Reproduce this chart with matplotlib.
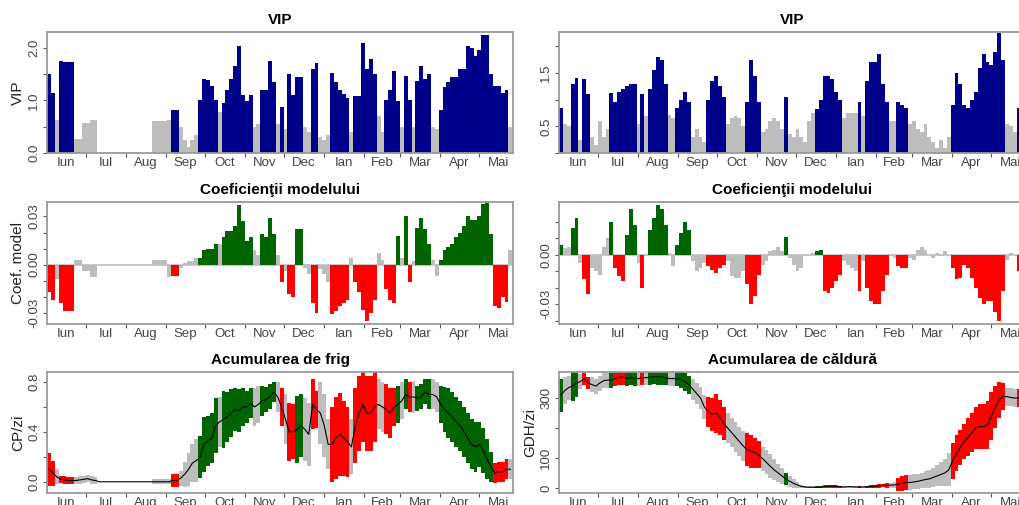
import numpy as np
import matplotlib.pyplot as plt

plt.rcParams['font.family'] = ['Liberation Sans', 'DejaVu Sans']

months = ['Iun', 'Iul', 'Aug', 'Sep', 'Oct', 'Nov', 'Dec', 'Ian', 'Feb', 'Mar', 'Apr', 'Mai']
month_start = [0, 30, 61, 92, 122, 153, 183, 214, 245, 273, 304, 334, 365]
bin_days = 3
vip_threshold = 0.8

# chill model: VIP, model coefficients, mean chill portions per day and sd (3-day steps from 1 June)
vip_chill = [1.5, 1.15, 0.62, 1.75, 1.73, 1.73, 1.73, 0.27, 0.27, 0.57,
             0.57, 0.63, 0.63, 0, 0, 0, 0, 0, 0, 0,
             0, 0, 0, 0, 0, 0, 0, 0.6, 0.6, 0.6,
             0.6, 0.63, 0.82, 0.82, 0.5, 0.25, 0.12, 0.25, 0.35, 1.0,
             1.4, 1.38, 1.28, 1.0, 0.78, 0.95, 1.2, 1.4, 1.65, 2.03,
             1.1, 0.98, 1.1, 0.5, 0.55, 1.2, 1.2, 1.75, 1.35, 0.55,
             0.88, 0.45, 1.5, 1.1, 1.45, 1.45, 0.5, 0.4, 1.6, 1.72,
             0.3, 0.25, 0.35, 1.52, 1.35, 1.2, 1.12, 1.05, 0.4, 1.08,
             1.08, 2.1, 1.6, 1.78, 1.5, 0.7, 0.4, 1.0, 1.2, 1.55,
             0.98, 0.5, 1.47, 1.0, 0.5, 1.37, 1.65, 1.4, 1.5, 0.5,
             0.45, 0.82, 1.25, 1.35, 1.45, 1.45, 1.6, 1.6, 2.03, 2.0,
             1.85, 1.95, 2.25, 2.25, 1.5, 1.28, 1.28, 1.15, 1.2, 0.5]
coef_chill = [-0.017, -0.022, -0.009, -0.024, -0.029, -0.029, -0.029, 0.003, 0.003, -0.004,
              -0.004, -0.008, -0.008, 0, 0, 0, 0, 0, 0, 0,
              0, 0, 0, 0, 0, 0, 0, 0.003, 0.003, 0.003,
              0.003, -0.008, -0.007, -0.007, -0.002, 0.001, 0.002, 0.002, 0.004, 0.004,
              0.009, 0.010, 0.010, 0.013, 0.013, 0.017, 0.021, 0.021, 0.024, 0.037,
              0.027, 0.015, 0.017, 0.009, 0.006, 0.019, 0.017, 0.029, 0.019, 0.006,
              -0.011, -0.004, -0.018, -0.020, 0.022, 0.022, -0.002, -0.006, -0.024, -0.030,
              -0.003, -0.006, -0.011, -0.031, -0.029, -0.026, -0.024, -0.022, 0.004, -0.011,
              -0.017, -0.028, -0.035, -0.030, -0.022, 0.007, 0.003, -0.015, -0.022, -0.024,
              0.018, 0.004, 0.030, -0.011, 0.002, 0.023, 0.029, 0.022, 0.013, 0.003,
              -0.007, 0.003, 0.009, 0.011, 0.013, 0.017, 0.020, 0.024, 0.030, 0.028,
              0.028, 0.030, 0.038, 0.039, 0.019, -0.026, -0.027, -0.020, -0.023, 0.009]
cp_mean = [0.10, 0.07, 0.04, 0.02, 0.015, 0.01, 0.01, 0.01, 0.015, 0.02,
           0.025, 0.015, 0.01, 0, 0, 0, 0, 0, 0, 0,
           0, 0, 0, 0, 0, 0, 0, 0, 0, 0,
           0, 0, 0.01, 0.01, 0.03, 0.06, 0.10, 0.15, 0.17, 0.20,
           0.30, 0.33, 0.35, 0.45, 0.48, 0.50, 0.52, 0.55, 0.58, 0.57,
           0.60, 0.60, 0.63, 0.60, 0.62, 0.65, 0.66, 0.68, 0.72, 0.68,
           0.60, 0.50, 0.40, 0.40, 0.42, 0.45, 0.42, 0.38, 0.62, 0.58,
           0.55, 0.45, 0.30, 0.30, 0.35, 0.38, 0.35, 0.32, 0.28, 0.45,
           0.55, 0.62, 0.55, 0.55, 0.60, 0.62, 0.60, 0.58, 0.55, 0.60,
           0.62, 0.65, 0.70, 0.68, 0.68, 0.67, 0.68, 0.72, 0.70, 0.70,
           0.68, 0.62, 0.58, 0.55, 0.52, 0.48, 0.45, 0.40, 0.35, 0.30,
           0.28, 0.30, 0.25, 0.18, 0.12, 0.07, 0.08, 0.08, 0.10, 0.10]
cp_sd = [0.13, 0.10, 0.06, 0.03, 0.03, 0.03, 0.03, 0.03, 0.03, 0.03,
         0.03, 0.03, 0.03, 0, 0, 0, 0, 0, 0, 0,
         0, 0, 0, 0, 0, 0, 0, 0.02, 0.02, 0.02,
         0.02, 0.02, 0.05, 0.05, 0.06, 0.10, 0.13, 0.15, 0.17, 0.17,
         0.22, 0.20, 0.20, 0.22, 0.20, 0.23, 0.20, 0.19, 0.17, 0.17,
         0.15, 0.13, 0.12, 0.15, 0.15, 0.12, 0.10, 0.10, 0.08, 0.12,
         0.15, 0.20, 0.23, 0.22, 0.27, 0.25, 0.25, 0.25, 0.20, 0.15,
         0.25, 0.25, 0.20, 0.30, 0.33, 0.33, 0.30, 0.28, 0.22, 0.30,
         0.30, 0.30, 0.30, 0.30, 0.28, 0.20, 0.20, 0.20, 0.20, 0.15,
         0.15, 0.15, 0.12, 0.12, 0.13, 0.10, 0.10, 0.10, 0.12, 0.12,
         0.12, 0.15, 0.18, 0.20, 0.20, 0.20, 0.20, 0.20, 0.20, 0.20,
         0.20, 0.18, 0.18, 0.16, 0.12, 0.08, 0.08, 0.08, 0.08, 0.08]

# heat model: VIP, model coefficients, mean growing degree hours per day and sd
vip_heat = [0.85, 0.55, 0.5, 1.3, 1.4, 0.25, 1.38, 1.1, 0.3, 0.15,
            0.6, 0.3, 0.45, 1.13, 0.95, 1.15, 1.2, 1.25, 1.3, 1.3,
            0.55, 1.1, 0.7, 1.2, 1.55, 1.8, 1.75, 1.3, 0.72, 0.65,
            0.85, 1.0, 1.15, 0.95, 0.3, 0.45, 0.3, 0.2, 1.0, 1.35,
            1.45, 1.25, 1.05, 0.55, 0.65, 0.7, 0.65, 0.5, 0.95, 1.75,
            1.45, 0.95, 0.4, 0.45, 0.6, 0.65, 0.6, 0.45, 1.05, 0.35,
            0.3, 0.45, 0.3, 0.2, 0.6, 0.75, 0.82, 1.0, 1.45, 1.45,
            1.38, 1.15, 1.0, 0.65, 0.75, 0.75, 0.75, 0.95, 0.7, 1.35,
            1.7, 1.7, 1.85, 1.3, 0.95, 0.6, 0.6, 0.95, 0.9, 0.85,
            0.55, 0.6, 0.45, 0.4, 0.55, 0.3, 0.2, 0.1, 0.25, 0.1,
            0.3, 0.9, 1.5, 1.3, 0.9, 0.85, 1.0, 1.15, 1.6, 1.85,
            1.7, 1.65, 1.9, 2.25, 1.75, 0.55, 0.5, 0.4, 0.85, 0.9]
coef_heat = [0.006, 0.004, 0.005, 0.016, 0.022, -0.005, -0.015, -0.024, -0.008, -0.010,
             -0.012, 0.005, 0.010, 0.020, -0.008, -0.013, -0.016, 0.012, 0.028, 0.018,
             -0.005, -0.020, 0.0, 0.015, 0.022, 0.030, 0.028, 0.018, 0.001, -0.007,
             0.006, 0.013, 0.020, 0.015, -0.004, -0.010, -0.008, -0.005, -0.007, -0.009,
             -0.011, -0.008, -0.006, -0.004, -0.013, -0.014, -0.014, -0.010, -0.018, -0.030,
             -0.025, -0.012, -0.006, -0.004, 0.002, 0.003, 0.005, 0.002, 0.011, -0.002,
             -0.006, -0.010, -0.008, -0.001, 0.0, 0.001, 0.002, 0.003, -0.022, -0.023,
             -0.020, -0.016, -0.012, -0.004, -0.006, -0.008, -0.010, -0.022, -0.004, -0.020,
             -0.028, -0.030, -0.030, -0.022, -0.012, -0.001, -0.002, -0.007, -0.008, -0.008,
             -0.002, -0.003, 0.003, 0.005, 0.003, 0.0, -0.002, 0.001, -0.001, 0.002,
             0.0, -0.008, -0.015, -0.014, -0.006, -0.008, -0.014, -0.020, -0.026, -0.030,
             -0.028, -0.028, -0.035, -0.040, -0.022, -0.003, 0.001, 0.0, -0.010, -0.012]
gdh_mean = [310, 325, 335, 340, 350, 355, 365, 350, 345, 340,
            350, 358, 360, 360, 365, 370, 370, 365, 368, 365,
            365, 368, 368, 370, 372, 372, 370, 368, 365, 365,
            365, 362, 355, 345, 330, 315, 300, 270, 255, 245,
            250, 235, 215, 200, 185, 170, 155, 140, 128, 122,
            118, 110, 98, 85, 72, 60, 50, 40, 30, 22,
            15, 10, 5, 3, 2, 2, 2, 3, 5, 6,
            6, 5, 4, 3, 4, 4, 3, 3, 3, 4,
            5, 6, 7, 8, 9, 9, 10, 12, 15, 18,
            18, 20, 22, 25, 28, 30, 35, 40, 45, 50,
            60, 90, 115, 135, 155, 170, 185, 200, 205, 205,
            210, 240, 270, 295, 305, 305, 302, 300, 300, 300]
gdh_sd = [55, 45, 40, 50, 45, 25, 20, 20, 25, 25,
          25, 25, 25, 25, 25, 25, 25, 25, 25, 25,
          25, 25, 25, 25, 25, 28, 25, 25, 25, 25,
          25, 28, 30, 30, 35, 35, 38, 40, 50, 55,
          65, 60, 55, 50, 50, 50, 50, 50, 55, 55,
          50, 45, 40, 40, 40, 35, 30, 28, 20, 18,
          14, 10, 6, 4, 3, 3, 3, 3, 5, 5,
          5, 4, 3, 3, 3, 3, 3, 3, 3, 4,
          5, 5, 6, 6, 8, 8, 10, 22, 25, 25,
          25, 25, 25, 25, 28, 30, 32, 35, 40, 45,
          55, 60, 60, 60, 60, 65, 65, 70, 75, 75,
          80, 80, 70, 60, 45, 30, 30, 30, 30, 30]

blue = '#00008B'
green = '#006400'
red = '#FF0000'
grey = '#BDBDBD'
frame_col = '#9A9A9A'
text_col = '#444444'

W, H = 1020, 505
fig = plt.figure(figsize=(W / 100, H / 100), dpi=100)


def add_panel(x0, y_top, y_bot):
    return fig.add_axes([x0 / W, 1 - y_bot / H, 466 / W, (y_bot - y_top) / H])


def style(ax, title, ylabel, yticks, ylabels, ylim):
    ax.set_xlim(0, 360.5)
    ax.set_ylim(*ylim)
    for s in ax.spines.values():
        s.set_color(frame_col)
        s.set_linewidth(1.3)
    ax.set_xticks(month_start[1:-1])
    ax.set_xticklabels([])
    mids = [(a + b) / 2 for a, b in zip(month_start[:-1], month_start[1:])]
    ax.set_xticks(mids, minor=True)
    ax.set_xticklabels(months, minor=True, fontsize=9.5, color=text_col)
    ax.tick_params(axis='x', which='major', length=3, color='#555555', direction='out')
    ax.tick_params(axis='x', which='minor', length=0, pad=3)
    ax.set_yticks(yticks)
    ax.set_yticklabels(ylabels, rotation=90, va='center', fontsize=9.5, color=text_col)
    ax.tick_params(axis='y', length=3, color='#555555', pad=2)
    ax.set_title(title, fontsize=11, fontweight='bold', pad=6)
    if ylabel:
        ax.set_ylabel(ylabel, fontsize=11, color='#222222', labelpad=2)


def draw_column(x0, vip, coef, mean, sd, titles, ylabels, yaxes):
    vip = np.array(vip)
    coef = np.array(coef)
    mean = np.array(mean)
    sd = np.array(sd)
    x = np.arange(len(vip)) * bin_days + bin_days / 2
    important = vip > vip_threshold
    vip_cols = np.where(important, blue, grey)
    coef_cols = np.where(important & (coef > 0), green,
                         np.where(important & (coef < 0), red, grey))

    ax = add_panel(x0, 32, 153)
    ax.bar(x, vip, width=bin_days, color=vip_cols, linewidth=0)
    style(ax, titles[0], ylabels[0], *yaxes[0])

    ax = add_panel(x0, 202, 324)
    ax.axhline(0, color=grey, lw=1.2, zorder=0)
    ax.bar(x, coef, width=bin_days, color=coef_cols, linewidth=0)
    style(ax, titles[1], ylabels[1], *yaxes[1])

    ax = add_panel(x0, 372, 493)
    ax.bar(x, 2 * sd, bottom=mean - sd, width=bin_days, color=coef_cols, linewidth=0)
    ax.plot(x, mean, color='black', lw=0.8)
    style(ax, titles[2], ylabels[2], *yaxes[2])


draw_column(47, vip_chill, coef_chill, cp_mean, cp_sd,
            ['VIP', 'Coeficienţii modelului', 'Acumularea de frig'],
            ['VIP', 'Coef. model', 'CP/zi'],
            [([0, 0.5, 1, 1.5, 2], ['0.0', '', '1.0', '', '2.0'], (0, 2.3)),
             ([-0.03, -0.02, -0.01, 0, 0.01, 0.02, 0.03],
              ['-0.03', '', '', '0.00', '', '', '0.03'], (-0.037, 0.039)),
             ([0, 0.2, 0.4, 0.6, 0.8], ['0.0', '', '0.4', '', '0.8'], (-0.09, 0.88))])

draw_column(559, vip_heat, coef_heat, gdh_mean, gdh_sd,
            ['VIP', 'Coeficienţii modelului', 'Acumularea de căldură'],
            [None, None, 'GDH/zi'],
            [([0, 0.5, 1, 1.5, 2], ['', '0.5', '', '1.5', ''], (0, 2.27)),
             ([-0.04, -0.03, -0.02, -0.01, 0, 0.01, 0.02],
              ['', '-0.03', '', '', '0.00', '', ''], (-0.042, 0.032)),
             ([0, 100, 200, 300], ['0', '100', '', '300'], (-17, 387))])

fig.savefig('out.png', dpi=100)
